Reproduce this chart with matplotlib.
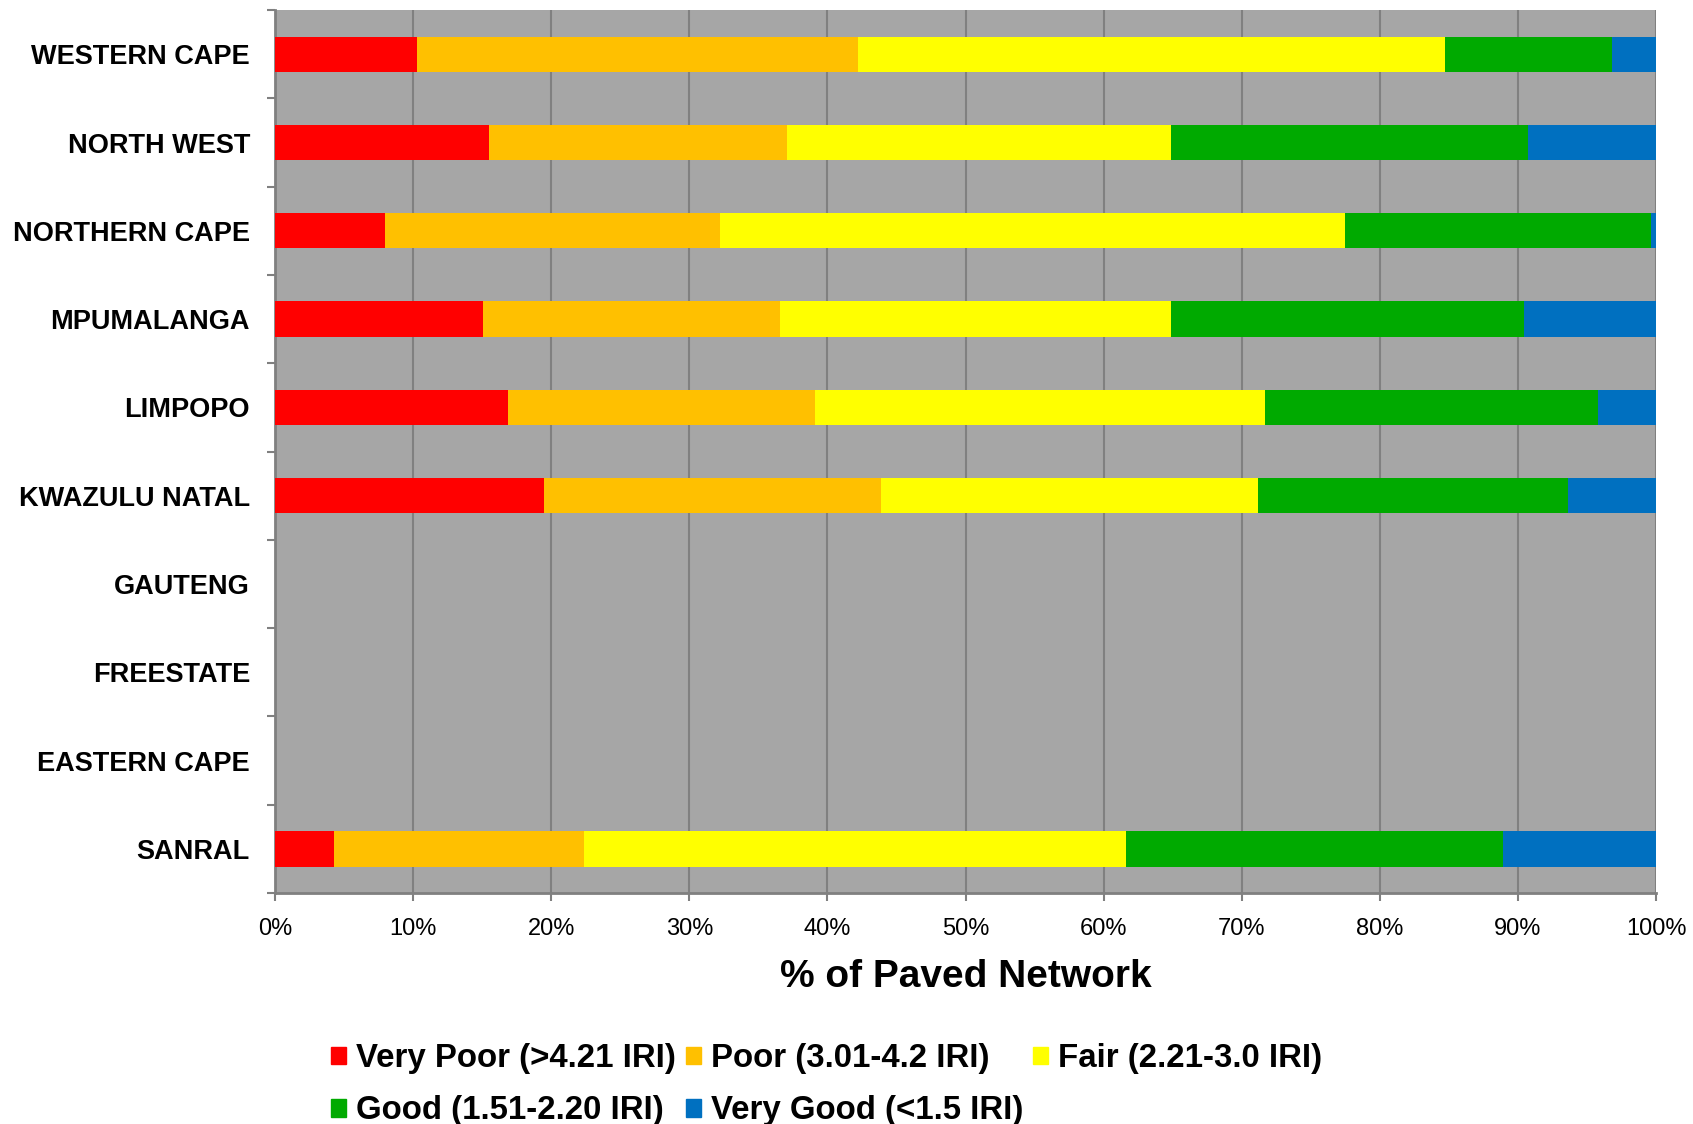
import matplotlib.pyplot as plt
import numpy as np
from matplotlib.patches import Patch

plt.rcParams['font.family'] = ['Liberation Sans', 'DejaVu Sans']

# Регионы (сверху вниз) и доли сети по классам состояния, %
regions = ['WESTERN CAPE', 'NORTH WEST', 'NORTHERN CAPE', 'MPUMALANGA', 'LIMPOPO',
           'KWAZULU NATAL', 'GAUTENG', 'FREESTATE', 'EASTERN CAPE', 'SANRAL']
very_poor = [10.25, 15.5, 8.0, 15.1, 16.9, 19.5, 0, 0, 0, 4.3]
poor = [32.0, 21.55, 24.2, 21.5, 22.2, 24.4, 0, 0, 0, 18.1]
fair = [42.45, 27.85, 45.3, 28.3, 32.6, 27.3, 0, 0, 0, 39.2]
good = [12.1, 25.85, 22.1, 25.5, 24.1, 22.4, 0, 0, 0, 27.3]
very_good = [3.2, 9.25, 0.4, 9.6, 4.2, 6.4, 0, 0, 0, 11.1]

series_names = ['Very Poor (>4.21 IRI)', 'Poor (3.01-4.2 IRI)', 'Fair (2.21-3.0 IRI)',
                'Good (1.51-2.20 IRI)', 'Very Good (<1.5 IRI)']
colors = ['#FF0000', '#FFC000', '#FFFF00', '#00AA00', '#0070C0']
x_ticks = np.arange(0, 101, 10)

fig = plt.figure(figsize=(16.93, 11.24), dpi=100)
ax = fig.add_axes([0.1624, 0.2055, 0.8158, 0.7855])
ax.set_facecolor('#A6A6A6')

y = np.arange(len(regions))
left = np.zeros(len(regions))
for vals, c in zip([very_poor, poor, fair, good, very_good], colors):
    ax.barh(y, vals, left=left, height=0.4, color=c, zorder=3)
    left += np.array(vals)

ax.set_xlim(0, 100)
ax.set_ylim(len(regions) - 0.5, -0.5)
ax.set_xticks(x_ticks)
ax.set_xticklabels([f'{v}%' for v in x_ticks], fontsize=17)
ax.set_yticks(y)
ax.set_yticklabels(regions, fontsize=19.5, fontweight='bold')
ax.set_yticks(np.arange(-0.5, len(regions)), minor=True)
ax.tick_params(axis='y', which='major', length=0, pad=18)
ax.tick_params(axis='y', which='minor', length=6, width=1.5, color='#808080')
ax.tick_params(axis='x', length=6, width=1.5, color='#808080', pad=12)
ax.xaxis.grid(True, color='#808080', linewidth=1.5, zorder=1)
ax.set_axisbelow(True)
for s in ['top', 'right']:
    ax.spines[s].set_visible(False)
for s in ['left', 'bottom']:
    ax.spines[s].set_color('#808080')
    ax.spines[s].set_linewidth(2)
ax.set_xlabel('% of Paved Network', fontsize=28, fontweight='bold', labelpad=14)

handles = [Patch(color=c) for c in colors]
order = [0, 3, 1, 4, 2]
fig.legend([handles[i] for i in order], [series_names[i] for i in order],
           loc='upper left', bbox_to_anchor=(0.186, 0.0865), ncol=3, frameon=False,
           borderpad=0, prop={'size': 23.8, 'weight': 'bold'},
           handlelength=0.45, handleheight=0.45, handletextpad=0.3,
           columnspacing=0.3, labelspacing=0.64)

fig.savefig('out.png', dpi=100)
